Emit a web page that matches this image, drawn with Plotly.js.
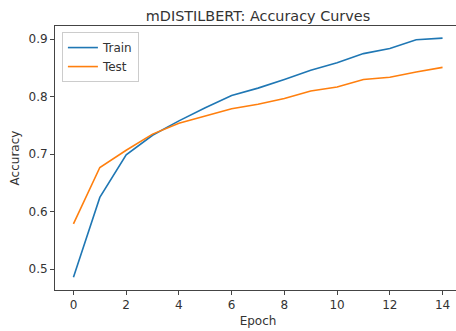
<!DOCTYPE html>
<html>
<head>
<meta charset="utf-8">
<script src="https://cdn.plot.ly/plotly-3.0.1.min.js"></script>
<style>
  html, body { margin: 0; padding: 0; overflow: hidden; background: #fff; }
  #chart { width: 462px; height: 331px; }
</style>
</head>
<body>
<div id="chart"></div>
<script>
// Accuracy per epoch for the mDISTILBERT fine-tuning run
const epochs = [0, 1, 2, 3, 4, 5, 6, 7, 8, 9, 10, 11, 12, 13, 14];
const trainAcc = [0.486, 0.625, 0.699, 0.733, 0.758, 0.781, 0.802, 0.815, 0.830, 0.846, 0.859, 0.875, 0.884, 0.899, 0.902];
const testAcc  = [0.579, 0.677, 0.707, 0.735, 0.754, 0.767, 0.779, 0.787, 0.797, 0.810, 0.817, 0.830, 0.834, 0.843, 0.851];
const seriesNames = ['Train', 'Test'];

const textColor = '#333333';
const fontFamily = 'DejaVu Sans, sans-serif';
const labelSize = 12;

const traces = [
  { x: epochs, y: trainAcc, name: seriesNames[0], mode: 'lines', type: 'scatter',
    line: { color: '#1f77b4', width: 1.6 } },
  { x: epochs, y: testAcc, name: seriesNames[1], mode: 'lines', type: 'scatter',
    line: { color: '#ff7f0e', width: 1.6 } }
];

const axisCommon = {
  showline: true, mirror: true, linecolor: '#444', linewidth: 1,
  showgrid: false, zeroline: false,
  ticks: 'outside', ticklen: 4, tickwidth: 1, tickcolor: '#444',
  tickfont: { family: fontFamily, size: labelSize, color: textColor }
};

const layout = {
  width: 462, height: 331,
  margin: { l: 55, r: 1, t: 26, b: 41 },
  paper_bgcolor: '#fff', plot_bgcolor: '#fff',
  font: { family: fontFamily, color: textColor },
  title: { text: 'mDISTILBERT: Accuracy Curves', x: 0.5, xref: 'paper', xanchor: 'center',
           y: 1, yref: 'paper', yanchor: 'bottom', pad: { b: 5 },
           font: { family: fontFamily, size: 14.4, color: textColor } },
  xaxis: Object.assign({}, axisCommon, {
    range: [-0.7, 14.7], tickmode: 'linear', tick0: 0, dtick: 2,
    title: { text: 'Epoch', standoff: 5, font: { family: fontFamily, size: labelSize, color: textColor } }
  }),
  yaxis: Object.assign({}, axisCommon, {
    range: [0.464, 0.923], tickmode: 'linear', tick0: 0.5, dtick: 0.1, tickformat: '.1f',
    title: { text: 'Accuracy', standoff: 6, font: { family: fontFamily, size: labelSize, color: textColor } }
  }),
  showlegend: true,
  legend: {
    x: 0.017, y: 0.977, xanchor: 'left', yanchor: 'top',
    bgcolor: 'rgba(255,255,255,0.8)', bordercolor: '#cccccc', borderwidth: 1,
    font: { family: fontFamily, size: labelSize, color: textColor },
    tracegroupgap: 0
  }
};

Plotly.newPlot('chart', traces, layout, { displayModeBar: false, staticPlot: true });
</script>
</body>
</html>
